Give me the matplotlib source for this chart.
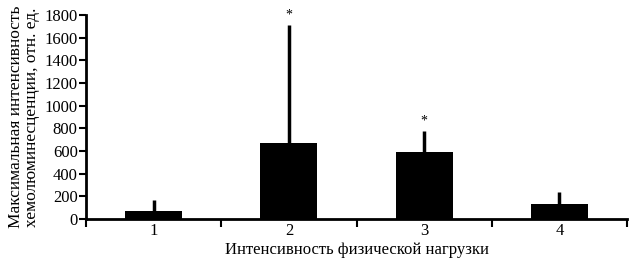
import matplotlib
matplotlib.use("Agg")
from matplotlib import pyplot as plt

plt.rcParams['font.family'] = ['Liberation Serif', 'DejaVu Serif']

groups = ['1', '2', '3', '4']
means = [73, 668, 589, 130]
errs = [95, 1044, 188, 106]
signif = ['', '*', '*', '']

fig = plt.figure(figsize=(6.38, 2.66), dpi=100)
ax = fig.add_axes([0.1348, 0.1767, 0.848, 0.767])

x = list(range(1, len(groups) + 1))
ax.bar(x, means, width=0.42, color='black')
ax.errorbar(x, means, yerr=[[0] * len(errs), errs], fmt='none',
            ecolor='black', elinewidth=2.5, capsize=0)
for xi, m, e, s in zip(x, means, errs, signif):
    if s:
        ax.text(xi, m + e + 30, s, ha='center', va='bottom', fontsize=10)

ax.set_xlim(0.5, 4.5)
ax.set_ylim(0, 1800)
ax.set_yticks(range(0, 1801, 200))
ax.set_xticks(x)
ax.set_xticklabels(groups)
ax.set_xticks([0.5, 1.5, 2.5, 3.5, 4.5], minor=True)
ax.tick_params(axis='x', which='major', length=0, labelsize=12, pad=3)
ax.tick_params(axis='x', which='minor', length=6, width=1.5, direction='out')
ax.tick_params(axis='y', length=5, width=1.5, labelsize=12, pad=1)

for side in ['top', 'right']:
    ax.spines[side].set_visible(False)
ax.spines['left'].set_linewidth(2)
ax.spines['bottom'].set_linewidth(2)

ax.set_xlabel('Интенсивность физической нагрузки', fontsize=12, labelpad=2)
ax.set_ylabel('Максимальная интенсивность\nхемолюминесценции, отн. ед.',
              fontsize=12.5, labelpad=3, linespacing=1.0)

fig.savefig('out.png', dpi=100)
